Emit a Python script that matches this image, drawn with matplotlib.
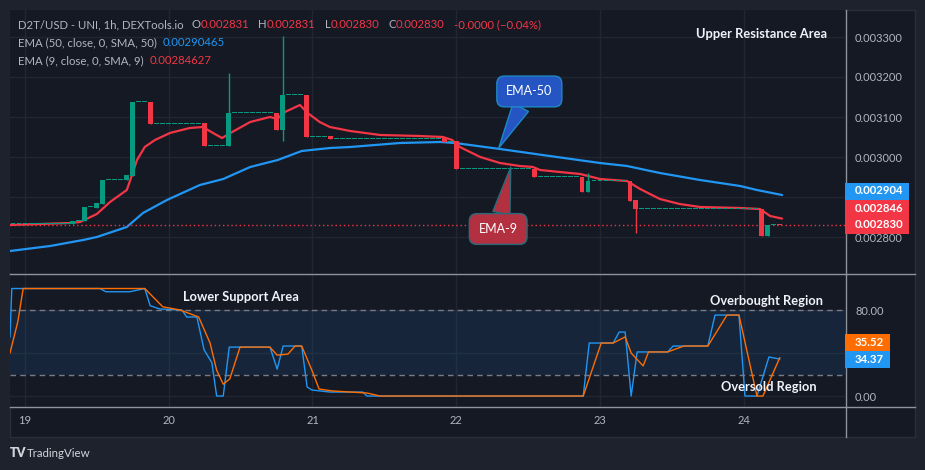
import numpy as np
import matplotlib.pyplot as plt
from matplotlib.patches import Rectangle
from matplotlib.lines import Line2D

plt.rcParams['font.family'] = ['Lato', 'DejaVu Sans']

# ── data (x = hours since the 19th, 00:00) ─────────────────────────────
start_price = 0.0028325
ev_hour  = [8, 10, 12, 13, 17, 18, 21, 30, 34, 42, 43, 47, 51, 70, 72, 85,
            93, 94, 101, 102, 123, 124, 126]
ev_open  = [0.0028335, 0.00284, 0.0028725, 0.0028825, 0.0029425, 0.0029525,
            0.0031375, 0.003085, 0.0030275, 0.00311, 0.0030675, 0.003155,
            0.0030525, 0.0030475, 0.00304, 0.00297, 0.00295, 0.0029125,
            0.00294, 0.0028925, 0.00287, 0.0028025, 0.002831]
ev_high  = [0.00284, 0.002875, 0.002885, 0.0029425, 0.002955, 0.0031375,
            0.0031375, 0.003085, 0.00321, 0.00311, 0.0033025, 0.003155,
            0.0030525, 0.0030475, 0.00304, 0.00297, 0.00295, 0.00296,
            0.00294, 0.0028925, 0.00287, 0.002831, 0.002831]
ev_low   = [0.0028335, 0.00284, 0.0028725, 0.0028825, 0.0029425, 0.0029525,
            0.0030825, 0.0030275, 0.0030275, 0.0030675, 0.00304, 0.00305,
            0.003045, 0.0030375, 0.00297, 0.00295, 0.0029125, 0.0029125,
            0.00289, 0.00281, 0.0028025, 0.0028025, 0.00283]
ev_close = [0.00284, 0.002875, 0.002885, 0.0029425, 0.002955, 0.0031375,
            0.0030825, 0.0030275, 0.00311, 0.0030675, 0.003155, 0.00305,
            0.003045, 0.0030375, 0.00297, 0.00295, 0.0029125, 0.00294,
            0.00289, 0.00287, 0.0028025, 0.002831, 0.00283]
first_hour, last_hour = -3, 126

ema9_h = [-2.5, 7.5, 9.2, 12.0, 14.2, 17.0, 17.7, 18.7, 20.0, 21.7, 24.2, 27.5,
          29.7, 31.4, 32.9, 34.6, 37.6, 40.9, 42.1, 43.4, 45.9, 47.2, 49.2, 50.9,
          54.3, 59.3, 65.9, 69.8, 71.3, 72.6, 76.0, 79.3, 82.6, 84.8, 86.0, 89.3,
          92.7, 96.0, 100.5, 102.7, 106.0, 109.3, 112.7, 119.4, 122.7, 124.4, 126.4]
ema9_p = [0.00283, 0.002835, 0.0028375, 0.0028575, 0.0028875, 0.0029175,
          0.0029475, 0.0029925, 0.003025, 0.0030425, 0.00306, 0.0030725,
          0.003075, 0.00306, 0.0030475, 0.0030625, 0.0030875, 0.0031, 0.003095,
          0.0031125, 0.00313, 0.00311, 0.0030875, 0.003075, 0.003065, 0.003055,
          0.0030525, 0.00305, 0.0030425, 0.003025, 0.003, 0.002985, 0.0029775,
          0.002975, 0.0029675, 0.0029625, 0.0029575, 0.002945, 0.00294, 0.00292,
          0.002895, 0.0028825, 0.002875, 0.0028725, 0.00287, 0.0028525, 0.002846]

ema50_h = [-2.5, 4.2, 9.7, 12.0, 17.0, 19.7, 23.7, 29.2, 33.1, 37.6, 42.2, 46.2,
           50.9, 54.3, 62.6, 69.3, 71.8, 79.3, 87.6, 96.0, 100.5, 106.0, 112.7,
           119.4, 122.2, 126.4]
ema50_p = [0.002765, 0.0027775, 0.0027925, 0.0028, 0.002825, 0.00286, 0.0028925,
           0.00293, 0.002945, 0.002975, 0.0029925, 0.003015, 0.0030225, 0.003025,
           0.003035, 0.0030375, 0.003035, 0.00302, 0.0030025, 0.002985, 0.0029775,
           0.00296, 0.0029425, 0.0029275, 0.0029175, 0.002905]

k_h = [-2.5, -2.2, 12.5, 13.5, 17.5, 20.0, 20.9, 22.5, 26.2, 27.0, 28.7, 29.9,
       31.2, 32.0, 33.1, 34.1, 40.9, 42.1, 43.1, 46.2, 47.1, 47.9, 50.9, 56.4,
       57.1, 93.2, 94.2, 98.2, 99.2, 100.2, 101.2, 102.2, 107.3, 108.2, 114.0,
       115.2, 119.2, 120.2, 122.2, 124.2, 126.0]
k_v = [55, 100, 100, 97, 97, 100, 84, 81, 80, 73.5, 73.5, 43, 31, 0, 0, 45.5,
       45.5, 25, 46.5, 46.5, 8.4, 5.6, 3.7, 3.7, 0, 0, 49.3, 49.3, 59.5, 59.5, 0,
       41, 41, 46.5, 46.5, 75.3, 75.3, 0, 0, 36.3, 34.37]

d_h = [-2.5, -1.2, -0.3, 20.0, 23.0, 25.9, 29.0, 30.9, 32.0, 33.1, 34.2, 35.9,
       40.9, 42.1, 43.9, 45.1, 46.2, 47.9, 49.1, 51.4, 57.1, 59.3, 93.2, 96.2,
       98.2, 100.2, 101.2, 103.2, 104.1, 107.3, 110.0, 114.0, 117.2, 119.2,
       122.2, 123.2, 126.0]
d_v = [40, 69, 100, 100, 83, 80, 73.5, 49.3, 24, 11, 16, 45.5, 45.5, 38, 39,
       46.5, 46.5, 24, 6.5, 4.7, 2.8, 0, 0, 49.3, 49.3, 55, 40, 28, 41, 41, 46.5,
       46.5, 75.3, 75.3, 0, 0, 35.52]

day_ticks = [0, 24, 48, 72, 96, 120]
day_labels = ['19', '20', '21', '22', '23', '24']
price_ticks = [0.0028, 0.0029, 0.0030, 0.0031, 0.0032, 0.0033]
price_labels = ['0.002800', '', '0.003000', '0.003100', '0.003200', '0.003300']
stoch_ticks = [0, 40, 80]
stoch_labels = ['0.00', '', '80.00']
last_close = 0.00283
price_box_vals = [0.002904, 0.002846, 0.002830]
stoch_box_vals = [35.52, 34.37]

# ── colours ─────────────────────────────────────────────────────────────
BG, OUTER, GRID = '#151924', '#1e222d', '#222632'
TXT, UP, DOWN = '#b2b5be', '#089981', '#f23645'
BLUE, ORANGE, SEP = '#2196f3', '#ff6d00', '#8f939c'

W, H = 925, 470
fig = plt.figure(figsize=(W / 100, H / 100), dpi=100, facecolor=OUTER)
fx = lambda px: px / W
fy = lambda py: 1 - py / H

fig.patches.append(Rectangle((fx(10), fy(437)), fx(905), 427 / H,
                             transform=fig.transFigure, fc=BG, ec='#2a2e39',
                             lw=1, zorder=-1))

ax = fig.add_axes([fx(10), fy(273), fx(835), 263 / H])
ax2 = fig.add_axes([fx(10), fy(407), fx(835), 133 / H], sharex=ax)
for a in (ax, ax2):
    a.set_facecolor(BG)
    for s in a.spines.values():
        s.set_visible(False)
    a.grid(True, color=GRID, lw=1)
    a.set_axisbelow(True)
    a.yaxis.tick_right()
    a.tick_params(axis='both', length=0, labelsize=8, colors=TXT)
    a.tick_params(axis='y', pad=7.2)
ax.set_xlim(-2.5, 136.9)
ax.set_ylim(0.00271, 0.0033675)
ax2.set_ylim(-10.2, 113.5)
ax.set_xticks(day_ticks)
ax.tick_params(labelbottom=False)
ax2.set_xticklabels(day_labels)
ax2.tick_params(axis='x', pad=5.5)
ax.set_yticks(price_ticks)
ax.set_yticklabels(price_labels)
ax2.set_yticks(stoch_ticks)
ax2.set_yticklabels(stoch_labels)

# ── candles (flat hours repeat the last close) ──────────────────────────
events = {h: (o, hi, lo, c) for h, o, hi, lo, c in
          zip(ev_hour, ev_open, ev_high, ev_low, ev_close)}
hrs, O, Hh, L, C = [], [], [], [], []
prev = start_price
for h in range(first_hour, last_hour + 1):
    o, hi, lo, c = events.get(h, (prev, prev, prev, prev))
    hrs.append(h); O.append(o); Hh.append(hi); L.append(lo); C.append(c)
    prev = c
hrs, O, Hh, L, C = map(np.array, (hrs, O, Hh, L, C))
cols = np.where(C >= O, UP, DOWN)
body_lo = np.minimum(O, C)
body_h = np.maximum(np.abs(C - O), 2.6e-6)
ax.vlines(hrs, L, Hh, colors=cols, lw=1, zorder=3)
ax.bar(hrs, body_h, bottom=body_lo, width=0.82, color=cols, lw=0, zorder=4)

ax.plot(ema50_h, ema50_p, color=BLUE, lw=1.6, zorder=2, solid_capstyle='round')
ax.plot(ema9_h, ema9_p, color=DOWN, lw=1.6, zorder=2, solid_capstyle='round')
ax.axhline(last_close, color=DOWN, lw=1, ls=(0, (1, 2)), zorder=2)

# ── stochastic pane ─────────────────────────────────────────────────────
ax2.axhspan(20, 80, color=BLUE, alpha=0.1, lw=0)
for lvl in (20, 80):
    ax2.axhline(lvl, color='#787b86', lw=1, ls=(0, (4, 3)))
ax2.plot(k_h, k_v, color=BLUE, lw=1.0, zorder=3)
ax2.plot(d_h, d_v, color=ORANGE, lw=1.0, zorder=3)

# ── pane separators ─────────────────────────────────────────────────────
for y in (273.5, 407):
    fig.add_artist(Line2D([fx(10), fx(915)], [fy(y)] * 2, color=SEP, lw=1, zorder=3))
fig.add_artist(Line2D([fx(845.5)] * 2, [fy(10), fy(437)], color=SEP, lw=1, zorder=3))


# ── header / legend texts ───────────────────────────────────────────────
def chain(x_px, y_px, parts, size):
    prev = None
    for s, col, gap in parts:
        if prev is None:
            prev = ax.annotate(s, xy=(x_px, H - y_px), xycoords='figure pixels',
                               va='baseline', ha='left', color=col,
                               fontsize=size, annotation_clip=False, zorder=6)
        else:
            prev = ax.annotate(s, xy=(1, 0), xycoords=prev, xytext=(gap * 0.72, 0),
                               textcoords='offset points', va='bottom', ha='left',
                               color=col, fontsize=size, annotation_clip=False,
                               zorder=6)


chain(18, 28, [('D2T/USD - UNI, 1h, DEXTools.io', TXT, 0), ('O', TXT, 8),
               ('0.002831', DOWN, 0), ('H', TXT, 9), ('0.002831', DOWN, 0),
               ('L', TXT, 9), ('0.002830', DOWN, 0), ('C', TXT, 9),
               ('0.002830', DOWN, 0), ('-0.0000 (\u22120.04%)', DOWN, 9)], 8.2)
chain(18, 46, [('EMA (50, close, 0, SMA, 50)', TXT, 0), ('0.00290465', BLUE, 6)], 8.2)
chain(18, 64, [('EMA (9, close, 0, SMA, 9)', TXT, 0), ('0.00284627', DOWN, 6)], 8.2)
chain(18, 294, [('Stoch (14, 1, 3)', TXT, 0), ('34.37', BLUE, 5),
                ('35.52', ORANGE, 5)], 8.2)

bold = dict(color='#f0f3fa', fontsize=9.3, weight='bold', zorder=6)
fig.text(fx(827), fy(38), 'Upper Resistance Area', ha='right', va='baseline', **bold)
fig.text(fx(183), fy(301), 'Lower Support Area', ha='left', va='baseline', **bold)
fig.text(fx(823), fy(305), 'Overbought Region', ha='right', va='baseline', **bold)
fig.text(fx(817), fy(391), 'Oversold Region', ha='right', va='baseline', **bold)

# ── callouts ────────────────────────────────────────────────────────────
ax.annotate('EMA-50', xy=(79.1, 0.0030225), xytext=(84.2, 0.0031638),
            ha='center', va='center', color='white', fontsize=9, zorder=7,
            bbox=dict(boxstyle='round,pad=0.75,rounding_size=0.6', fc='#2455c3',
                      ec='#1e88c8', lw=1),
            arrowprops=dict(arrowstyle='wedge,tail_width=1.4', fc='#2455c3',
                            ec='#1e88c8', lw=1, shrinkA=0, shrinkB=0))
ax.annotate('EMA-9', xy=(81.1, 0.002975), xytext=(79.0, 0.00282),
            ha='center', va='center', color='white', fontsize=9, zorder=7,
            bbox=dict(boxstyle='round,pad=0.75,rounding_size=0.6', fc='#b2303f',
                      ec='#2b6a78', lw=1),
            arrowprops=dict(arrowstyle='wedge,tail_width=1.4', fc='#b2303f',
                            ec='#2b6a78', lw=1, shrinkA=0, shrinkB=0))


# ── last-value boxes on the right scales ────────────────────────────────
def value_boxes(axis, vals, colors, fmt, width):
    ys = axis.transData.transform([(0, v) for v in vals])[:, 1]
    placed, last = {}, -1e9
    for i in np.argsort(ys):
        y = max(ys[i], last + 17)
        placed[i] = y
        last = y
    for i, y in placed.items():
        fig.patches.append(Rectangle((fx(845), (y - 8.5) / H), fx(width), 17 / H,
                                     transform=fig.transFigure, fc=colors[i],
                                     lw=0, zorder=5))
        fig.text(fx(855), y / H, fmt.format(vals[i]), color='white', fontsize=8.2,
                 weight='bold', ha='left', va='center', zorder=6)


value_boxes(ax, price_box_vals, [BLUE, DOWN, DOWN], '{:.6f}', 64)
value_boxes(ax2, stoch_box_vals, [ORANGE, BLUE], '{:.2f}', 45)

# ── footer ──────────────────────────────────────────────────────────────
fig.text(fx(10), fy(457), 'TV', color='#d1d4dc', fontsize=9, weight='heavy')
fig.text(fx(27), fy(457), 'TradingView', color='#d1d4dc', fontsize=8.3)

fig.savefig('out.png', dpi=100, facecolor=OUTER)
